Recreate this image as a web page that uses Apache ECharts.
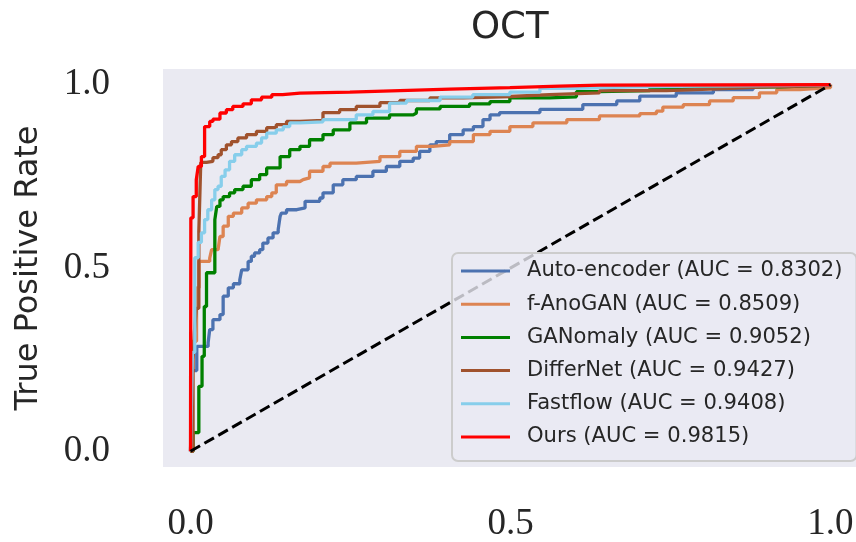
<!DOCTYPE html>
<html>
<head>
<meta charset="utf-8">
<script src="https://cdn.jsdelivr.net/npm/echarts@6/dist/echarts.min.js"></script>
<style>html,body{margin:0;padding:0;background:#fff}#chart{width:856px;height:542px}</style>
</head>
<body>
<div id="chart"></div>
<script>
// ---- data (ROC curves: [FPR, TPR], TPR reached at each FPR) ----
const methodNames = ['Auto-encoder', 'f-AnoGAN', 'GANomaly', 'DifferNet', 'Fastflow', 'Ours'];
const aucValues = ['0.8302', '0.8509', '0.9052', '0.9427', '0.9408', '0.9815'];
const xTickValues = [0, 0.5, 1];
const yTickValues = [0, 0.5, 1];
const chanceLine = [[0, 0], [1, 1]];

const autoEncoder = [[0,0],[0.003,0.22],[0.0098,0.286],[0.0275,0.296],[0.030,0.332],[0.035,0.359],[0.046,0.373],[0.051,0.423],[0.059,0.446],[0.067,0.457],[0.077,0.468],[0.080,0.495],[0.090,0.518],[0.095,0.532],[0.100,0.541],[0.108,0.550],[0.113,0.568],[0.121,0.582],[0.129,0.596],[0.137,0.605],[0.140,0.641],[0.142,0.650],[0.150,0.659],[0.166,0.664],[0.179,0.682],[0.202,0.691],[0.207,0.705],[0.223,0.727],[0.238,0.741],[0.259,0.750],[0.285,0.764],[0.306,0.777],[0.327,0.791],[0.348,0.800],[0.358,0.818],[0.374,0.836],[0.384,0.845],[0.405,0.864],[0.426,0.877],[0.442,0.886],[0.457,0.905],[0.468,0.918],[0.483,0.924],[0.546,0.933],[0.613,0.946],[0.666,0.956],[0.702,0.969],[0.759,0.978],[0.817,0.987],[0.879,0.996],[0.926,0.999],[1,1]];

const fAnoGAN = [[0,0],[0.003,0.30],[0.0094,0.446],[0.0134,0.518],[0.030,0.527],[0.033,0.550],[0.043,0.555],[0.046,0.586],[0.051,0.614],[0.059,0.641],[0.067,0.650],[0.080,0.664],[0.090,0.677],[0.103,0.686],[0.119,0.695],[0.127,0.705],[0.134,0.727],[0.150,0.736],[0.171,0.741],[0.176,0.746],[0.186,0.764],[0.207,0.777],[0.218,0.786],[0.259,0.791],[0.296,0.804],[0.327,0.818],[0.353,0.832],[0.379,0.836],[0.405,0.845],[0.442,0.864],[0.468,0.873],[0.499,0.886],[0.535,0.896],[0.588,0.905],[0.639,0.915],[0.702,0.921],[0.728,0.928],[0.738,0.939],[0.770,0.946],[0.811,0.956],[0.848,0.965],[0.889,0.978],[0.916,0.987],[0.952,0.992],[1,1]];

const ganomaly = [[0,0],[0.004,0.051],[0.013,0.177],[0.018,0.259],[0.0215,0.395],[0.025,0.487],[0.038,0.632],[0.041,0.668],[0.046,0.686],[0.051,0.695],[0.061,0.705],[0.069,0.714],[0.082,0.723],[0.095,0.741],[0.108,0.755],[0.119,0.773],[0.140,0.804],[0.155,0.823],[0.171,0.832],[0.186,0.850],[0.207,0.864],[0.223,0.877],[0.249,0.896],[0.275,0.909],[0.311,0.918],[0.348,0.923],[0.353,0.934],[0.390,0.941],[0.436,0.948],[0.468,0.954],[0.499,0.964],[0.561,0.967],[0.603,0.981],[0.639,0.984],[0.718,0.992],[0.796,0.994],[0.921,0.999],[1,1]];

const differNet = [[0,0],[0.004,0.25],[0.006,0.324],[0.009,0.39],[0.013,0.60],[0.016,0.788],[0.025,0.791],[0.035,0.801],[0.043,0.809],[0.048,0.823],[0.056,0.836],[0.064,0.845],[0.074,0.855],[0.0875,0.864],[0.103,0.873],[0.119,0.883],[0.134,0.891],[0.150,0.900],[0.171,0.903],[0.207,0.924],[0.233,0.932],[0.259,0.941],[0.296,0.951],[0.327,0.957],[0.374,0.964],[0.426,0.968],[0.500,0.973],[0.561,0.978],[0.639,0.984],[0.744,0.989],[0.822,0.994],[0.900,0.998],[1,1]];

const fastflow = [[0,0],[0.003,0.27],[0.0067,0.528],[0.012,0.57],[0.017,0.596],[0.022,0.632],[0.027,0.659],[0.033,0.686],[0.038,0.714],[0.043,0.723],[0.048,0.750],[0.054,0.768],[0.061,0.791],[0.069,0.809],[0.080,0.823],[0.0875,0.832],[0.103,0.841],[0.111,0.855],[0.119,0.868],[0.134,0.877],[0.145,0.886],[0.155,0.896],[0.171,0.899],[0.207,0.905],[0.259,0.918],[0.285,0.927],[0.311,0.950],[0.3375,0.957],[0.390,0.966],[0.441,0.973],[0.499,0.980],[0.546,0.990],[0.603,0.994],[0.691,0.996],[0.800,0.999],[1,1]];

const ours = [[0,0],[0.0005,0.637],[0.004,0.695],[0.009,0.741],[0.012,0.777],[0.017,0.804],[0.022,0.886],[0.030,0.900],[0.035,0.906],[0.046,0.923],[0.056,0.932],[0.066,0.941],[0.082,0.948],[0.095,0.959],[0.111,0.966],[0.127,0.973],[0.144,0.977],[0.171,0.980],[0.249,0.984],[0.327,0.988],[0.405,0.992],[0.499,0.996],[0.577,0.999],[0.64,1],[1,1]];

const curves = [autoEncoder, fAnoGAN, ganomaly, differNet, fastflow, ours];
const colors = ['#4C72B0', '#DD8452', '#008000', '#A0522D', '#87CEEB', '#FF0000'];

// ---- chart ----
const chart = echarts.init(document.getElementById('chart'), null, {renderer: 'canvas'});
const legendNames = methodNames.map((n, i) => `${n} (AUC = ${aucValues[i]})`);
const textColor = '#262626';

const series = curves.map((c, i) => ({
  name: legendNames[i],
  type: 'line',
  data: c,
  step: 'end',
  showSymbol: false,
  symbol: 'none',
  color: colors[i],
  itemStyle: {color: colors[i]},
  lineStyle: {color: colors[i], width: 3.3},
  z: 2 + i * 0.01,
  animation: false
}));
series.push({
  name: 'chance',
  type: 'line',
  data: chanceLine,
  showSymbol: false,
  symbol: 'none',
  lineStyle: {color: '#000', width: 3, type: [11, 5]},
  z: 3,
  animation: false
});

chart.setOption({
  animation: false,
  backgroundColor: '#ffffff',
  title: {
    text: 'OCT',
    left: 471, top: 10, padding: 0,
    textStyle: {fontFamily: 'DejaVu Sans', fontSize: 37, fontWeight: 'normal', color: textColor}
  },
  grid: {
    left: 163, top: 69, width: 695, height: 398,
    show: true, backgroundColor: '#EAEAF2', borderWidth: 0,
    containLabel: false, outerBoundsMode: 'none'
  },
  xAxis: {
    type: 'value', min: -0.043, max: 1.043,
    axisLine: {show: false}, axisTick: {show: false}, splitLine: {show: false},
    axisLabel: {
      customValues: xTickValues, margin: 39,
      formatter: v => v.toFixed(1),
      fontFamily: 'Liberation Serif', fontSize: 37, color: textColor
    }
  },
  yAxis: {
    type: 'value', min: -0.043, max: 1.043,
    name: 'True Positive Rate', nameLocation: 'middle', nameGap: 118,
    nameTextStyle: {fontFamily: 'DejaVu Sans', fontSize: 32, color: textColor},
    axisLine: {show: false}, axisTick: {show: false}, splitLine: {show: false},
    axisLabel: {
      customValues: yTickValues, margin: 53,
      formatter: v => v.toFixed(1),
      fontFamily: 'Liberation Serif', fontSize: 37, color: textColor
    }
  },
  legend: {
    data: legendNames,
    orient: 'vertical',
    left: 452, top: 253,
    padding: [6, 14, 12, 9],
    itemGap: 9.2,
    icon: 'rect',
    itemWidth: 49, itemHeight: 3,
    backgroundColor: 'rgba(234,234,242,0.8)',
    borderColor: '#CCCCCC', borderWidth: 2, borderRadius: 6,
    selectedMode: false,
    z: 10,
    textStyle: {fontFamily: 'DejaVu Sans', fontSize: 21.1, lineHeight: 24, color: textColor, padding: [0, 0, 0, 12]}
  },
  series: series
});
</script>
</body>
</html>
